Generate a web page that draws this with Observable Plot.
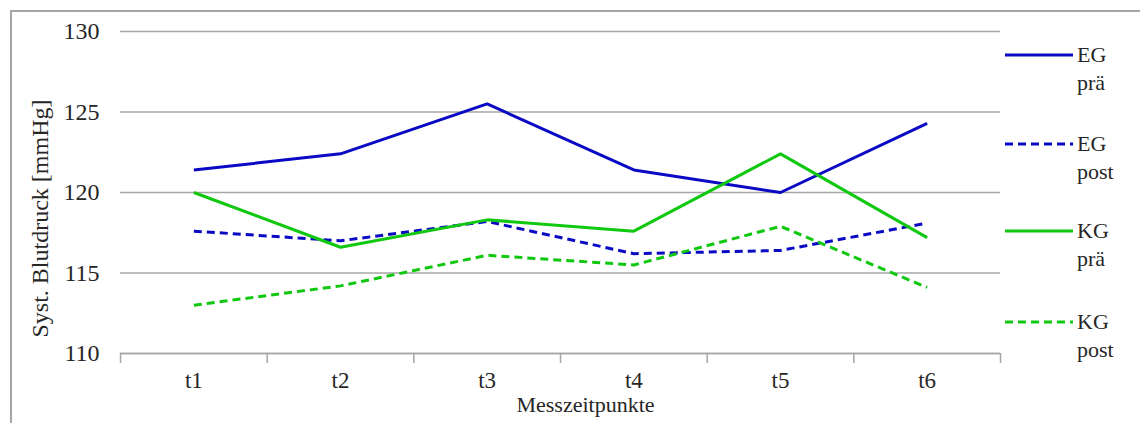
<!DOCTYPE html>
<html>
<head>
<meta charset="utf-8">
<script src="https://cdn.jsdelivr.net/npm/d3@7"></script>
<script src="https://cdn.jsdelivr.net/npm/@observablehq/plot@0.6"></script>
<style>
  html, body { margin: 0; padding: 0; background: #fff; }
  #wrap { position: relative; width: 1140px; height: 423px; overflow: hidden; }
  #frame { position: absolute; left: 10px; top: 10px; width: 1140px; height: 420px;
           border-top: 2px solid #a6a6a6; border-left: 2px solid #a6a6a6; box-sizing: border-box; }
  #chart { position: absolute; left: 0; top: 0; }
  #chart svg text { font-family: 'Liberation Serif', 'DejaVu Serif', serif; }
</style>
</head>
<body>
<div id="wrap"><div id="frame"></div><div id="chart"></div></div>
<script>
const categories = ["t1", "t2", "t3", "t4", "t5", "t6"];
const seriesNames = ["EG prä", "EG post", "KG prä", "KG post"];
const egPrae  = [121.4, 122.4, 125.5, 121.4, 120.0, 124.3];
const egPost  = [117.6, 117.0, 118.2, 116.2, 116.4, 118.1];
const kgPrae  = [120.0, 116.6, 118.3, 117.6, 122.4, 117.2];
const kgPost  = [113.0, 114.2, 116.1, 115.5, 117.9, 114.1];
const yTicks = [110, 115, 120, 125, 130];
const yLabel = "Syst. Blutdruck [mmHg]";
const xLabel = "Messzeitpunkte";

const blue = "#0a0ac4", green = "#10c810";
const styles = [
  {color: blue, dash: null},
  {color: blue, dash: "8,5"},
  {color: green, dash: null},
  {color: green, dash: "8,5"}
];
const values = [egPrae, egPost, kgPrae, kgPost];
const rows = [];
values.forEach((arr, s) => arr.forEach((v, i) => rows.push({series: seriesNames[s], idx: i + 1, cat: categories[i], value: v})));

const boundaries = d3.range(0, categories.length + 1).map(i => i + 0.5);
const font = "'Liberation Serif', 'DejaVu Serif', serif";
const gray = "#a6a6a6";
const ink = "#262626";

const marks = [
  Plot.gridY(yTicks, {stroke: gray, strokeOpacity: 1, strokeWidth: 1.5}),
  Plot.ruleY([110], {stroke: gray, strokeWidth: 1.5}),
  Plot.axisY({ticks: yTicks, tickSize: 0, tickPadding: 21, fontSize: 24, fontFamily: font, fill: ink, label: null}),
  Plot.axisX({ticks: boundaries, tickFormat: () => "", tickSize: 10, stroke: gray, strokeWidth: 1.5, label: null}),
  Plot.axisX({ticks: d3.range(1, categories.length + 1), tickFormat: d => categories[d - 1], tickSize: 0,
              tickPadding: 18, fontSize: 23, fontFamily: font, fill: ink, label: null}),
  Plot.text([yLabel], {frameAnchor: "left", text: d => d, rotate: -90, dx: -80, dy: 26,
              fontSize: 24, fontFamily: font, fill: ink, textAnchor: "middle"}),
  Plot.text([xLabel], {frameAnchor: "bottom", text: d => d, dx: 25, dy: 58,
              fontSize: 22, fontFamily: font, fill: ink, textAnchor: "middle"})
];
seriesNames.forEach((name, s) => {
  marks.push(Plot.line(rows.filter(r => r.series === name), {
    x: "idx", y: "value", stroke: styles[s].color, strokeWidth: 3,
    strokeDasharray: styles[s].dash || undefined, strokeLinejoin: "miter", strokeLinecap: "butt"
  }));
});

const plot = Plot.plot({
  width: 1140, height: 423,
  marginLeft: 120, marginRight: 140, marginTop: 31, marginBottom: 70,
  style: {fontFamily: font, color: ink, background: "transparent"},
  x: {type: "linear", domain: [0.5, categories.length + 0.5]},
  y: {domain: [110, 130]},
  marks
});
document.getElementById("chart").appendChild(plot);

// legend
const svg = d3.select(plot);
const lg = svg.append("g").attr("text-anchor", "start").attr("font-size", 22).attr("fill", ink);
const legendY = [55, 144, 231, 322];
seriesNames.forEach((name, s) => {
  const [g1, g2] = name.split(" ");
  const y = legendY[s];
  lg.append("line").attr("x1", 1005).attr("x2", 1073).attr("y1", y).attr("y2", y)
    .attr("stroke", styles[s].color).attr("stroke-width", 3)
    .attr("stroke-dasharray", styles[s].dash);
  lg.append("text").attr("x", 1077).attr("y", y + 7).text(g1);
  lg.append("text").attr("x", 1077).attr("y", y + 35).text(g2);
});
</script>
</body>
</html>
